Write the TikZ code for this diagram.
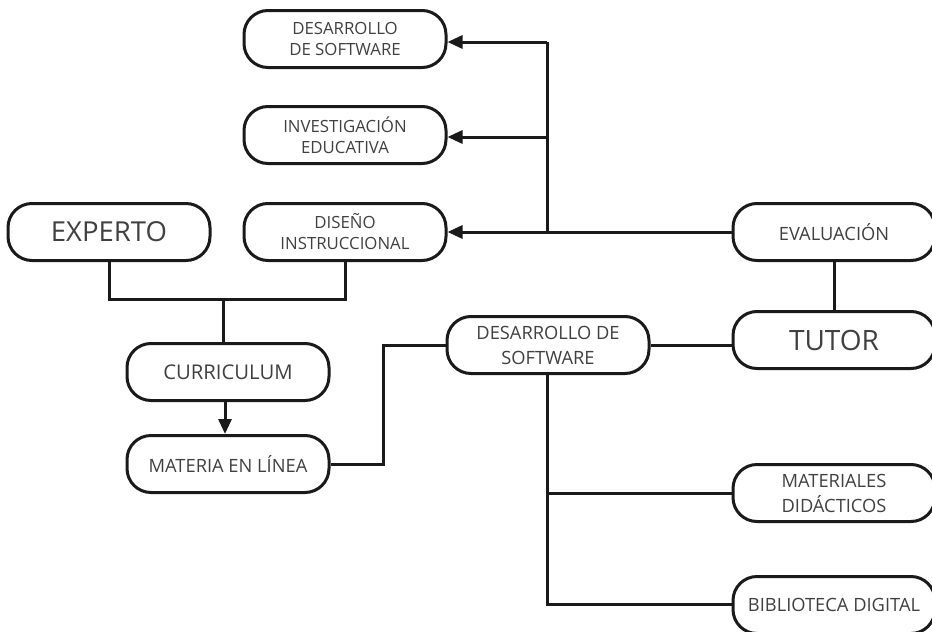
\documentclass[tikz,border=0pt]{standalone}
\usepackage{fontspec}
\setmainfont{Open Sans}
\usetikzlibrary{arrows.meta}
\definecolor{txt}{HTML}{404040}
\definecolor{ln}{HTML}{1A1A1A}
\begin{document}
\begin{tikzpicture}[x=1pt,y=-1pt,
  box/.style={draw=ln, line width=3pt, rounded corners=24pt, minimum width=202pt, minimum height=57pt, align=center, text=txt, inner sep=0pt},
  small/.style={font=\fontsize{16.8}{21}\selectfont},
  mid/.style={font=\fontsize{18.3}{25}\selectfont},
  big/.style={font=\fontsize{27.5}{32}\selectfont},
  conn/.style={draw=ln, line width=3pt},
  arr/.style={conn, -{Triangle[length=15pt,width=13pt]}}]
\useasboundingbox (0,0) rectangle (932,632);
\node[box,small] (dsw1) at (345,39) {DESARROLLO\\DE SOFTWARE};
\node[box,small] (inv) at (345,135) {INVESTIGACIÓN\\EDUCATIVA};
\node[box,small] (dis) at (345,232) {DISEÑO\\INSTRUCCIONAL};
\node[box,big] (exp) at (109,232) {EXPERTO};
\node[box,font=\fontsize{20.3}{24}\selectfont] (cur) at (228,372) {CURRICULUM};
\node[box,mid] (mat) at (228,464) {MATERIA EN LÍNEA};
\node[box,mid] (dsw2) at (548,345) {DESARROLLO DE\\SOFTWARE};
\node[box,mid] (eva) at (834,232) {EVALUACIÓN};
\node[box,font=\fontsize{28}{32}\selectfont] (tut) at (834,340) {TUTOR};
\node[box,mid] (mdi) at (834,493) {MATERIALES\\DIDÁCTICOS};
\node[box,mid] (bib) at (834,605) {BIBLIOTECA DIGITAL};
% junctions
\coordinate (jt) at (547,42);
\coordinate (jm) at (547,137);
\coordinate (jb) at (547,233);
\coordinate (ex) at (223,299);
\coordinate (m1) at (383,464);
\coordinate (m2) at (383,345);
\coordinate (d1) at (547,493);
\coordinate (d2) at (547,604);
% top branch
\draw[conn] (jt) -- (jb);
\draw[arr] (jt) -- (jt -| dsw1.east);
\draw[arr] (jm) -- (jm -| inv.east);
\draw[arr] (eva.west) -- (dis.east);
% eval - tutor
\draw[conn] (eva.south) -- (tut.north);
\draw[conn] (tut.west |- dsw2.east) -- (dsw2.east);
% expert, diseño to curriculum
\draw[conn] (exp.south) |- (ex) -| (dis.south);
\draw[conn] (ex) -- (ex |- cur.north);
\draw[arr] (cur.south -| 225,0) -- (mat.north -| 225,0);
% materia to desarrollo
\draw[conn] (mat.east) -- (m1) -- (m2) -- (dsw2.west);
% desarrollo down
\draw[conn] (dsw2.south -| d2) -- (d2) -- (d2 -| bib.west);
\draw[conn] (d1) -- (d1 -| mdi.west);
\end{tikzpicture}
\end{document}
